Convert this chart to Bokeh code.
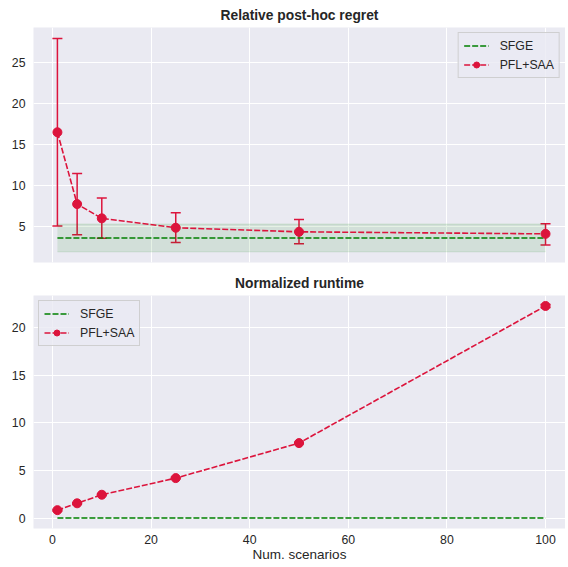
from bokeh.plotting import figure
from bokeh.layouts import column
from bokeh.models import ColumnDataSource, Whisker, TeeHead, Legend, LegendItem, Range1d, SingleIntervalTicker
from bokeh.embed import file_html
from bokeh.resources import INLINE

# ---- data ----
scenarios = [1, 5, 10, 25, 50, 100]
regret_mean = [16.5, 7.7, 5.95, 4.8, 4.3, 4.05]
regret_lo = [5.0, 3.95, 3.5, 3.0, 2.85, 2.7]
regret_hi = [28.0, 11.45, 8.45, 6.65, 5.8, 5.3]
sfge_regret = 3.55
sfge_regret_lo = 1.85
sfge_regret_hi = 5.25

runtime_mean = [0.83, 1.55, 2.45, 4.2, 7.88, 22.3]
runtime_lo = [0.75, 1.48, 2.38, 4.12, 7.8, 22.15]
runtime_hi = [0.91, 1.62, 2.52, 4.28, 7.96, 22.45]
sfge_runtime = 0.0

CRIMSON = "#DC143C"
GREEN = "#008000"
BG = "#EAEAF2"
TXT = "#262626"
FONT = "Liberation Sans"


def style(p):
    p.background_fill_color = BG
    p.border_fill_color = "white"
    p.outline_line_color = None
    p.grid.grid_line_color = "white"
    p.grid.grid_line_width = 1
    for ax in p.axis:
        ax.axis_line_color = None
        ax.major_tick_line_color = None
        ax.minor_tick_line_color = None
        ax.major_tick_out = 0
        ax.major_tick_in = 0
        ax.minor_tick_out = 0
        ax.major_label_text_font = FONT
        ax.major_label_text_font_size = "12.3px"
        ax.major_label_text_color = TXT
    p.yaxis.major_label_standoff = 8
    p.xaxis.major_label_standoff = 6
    p.title.text_font = FONT
    p.title.text_font_size = "13.8px"
    p.title.text_font_style = "bold"
    p.title.text_color = TXT
    p.title.align = "center"


def add_series(p, mean, lo, hi, sfge_y, band=None):
    xs = [scenarios[0], scenarios[-1]]
    if band is not None:
        p.varea(x=xs, y1=[band[0]] * 2, y2=[band[1]] * 2, fill_color=GREEN, fill_alpha=0.1)
        p.line(x=xs, y=[band[0]] * 2, line_color=GREEN, line_alpha=0.12)
        p.line(x=xs, y=[band[1]] * 2, line_color=GREEN, line_alpha=0.12)
    sf = p.line(x=xs, y=[sfge_y] * 2, line_color=GREEN, line_width=1.6, line_dash="6 2")
    src = ColumnDataSource(dict(x=scenarios, y=mean, lo=lo, hi=hi))
    w = Whisker(base="x", lower="lo", upper="hi", source=src, line_color=CRIMSON, line_width=1.5,
                upper_head=TeeHead(size=10, line_color=CRIMSON, line_width=1.5),
                lower_head=TeeHead(size=10, line_color=CRIMSON, line_width=1.5))
    p.add_layout(w)
    ln = p.line(x="x", y="y", source=src, line_color=CRIMSON, line_width=1.6, line_dash="6 2")
    sc = p.scatter(x="x", y="y", source=src, size=9, fill_color=CRIMSON, line_color=CRIMSON)
    return sf, ln, sc


x_range = Range1d(-3.85, 104.05)

p1 = figure(width=565, height=268, output_backend="svg", toolbar_location=None,
            x_range=x_range, y_range=Range1d(0.54, 29.34), title="Relative post-hoc regret",
            min_border_left=33, min_border_right=0, min_border_bottom=6, min_border_top=4)
p1.yaxis.ticker = SingleIntervalTicker(interval=5)
p1.xaxis.ticker = SingleIntervalTicker(interval=20)
sf, ln, sc = add_series(p1, regret_mean, regret_lo, regret_hi, sfge_regret,
                        band=(sfge_regret_lo, sfge_regret_hi))
style(p1)
p1.xaxis.visible = False

p2 = figure(width=565, height=296, output_backend="svg", toolbar_location=None,
            x_range=x_range, y_range=Range1d(-1.1, 23.4), title="Normalized runtime",
            min_border_left=33, min_border_right=0, min_border_top=4, min_border_bottom=0)
p2.yaxis.ticker = SingleIntervalTicker(interval=5)
p2.xaxis.ticker = SingleIntervalTicker(interval=20)
sf2, ln2, sc2 = add_series(p2, runtime_mean, runtime_lo, runtime_hi, sfge_runtime)
style(p2)
p2.xaxis.axis_label = "Num. scenarios"
p2.xaxis.axis_label_text_font = FONT
p2.xaxis.axis_label_text_font_size = "13.5px"
p2.xaxis.axis_label_text_font_style = "normal"
p2.xaxis.axis_label_text_color = TXT
p2.xaxis.axis_label_standoff = 0


def legend(p, a, b, c, loc):
    lg = Legend(items=[LegendItem(label="SFGE", renderers=[a]),
                       LegendItem(label="PFL+SAA", renderers=[b, c])],
                location=loc)
    lg.background_fill_color = BG
    lg.background_fill_alpha = 0.8
    lg.border_line_color = "#cccccc"
    lg.border_line_alpha = 0.9
    lg.label_text_font = FONT
    lg.label_text_font_size = "12.3px"
    lg.label_text_color = TXT
    lg.glyph_width = 25
    lg.glyph_height = 15
    lg.spacing = 4
    lg.padding = 5
    lg.margin = 5
    lg.label_standoff = 11
    p.add_layout(lg)


legend(p1, sf, ln, sc, "top_right")
legend(p2, sf2, ln2, sc2, "top_left")

layout = column(p1, p2, spacing=0)
open("out.html", "w").write(file_html(layout, INLINE))
